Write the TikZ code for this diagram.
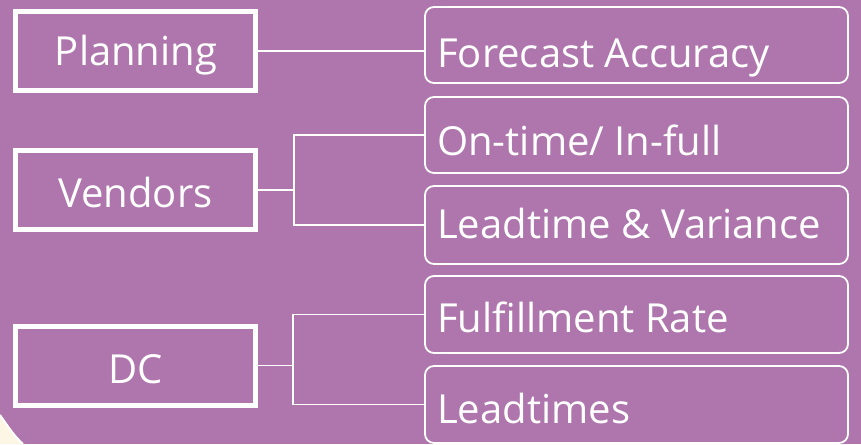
\documentclass[tikz,border=0pt]{standalone}
\usepackage{fontspec}
\setmainfont{Open Sans}
\definecolor{bgpurple}{HTML}{AE76AC}
\definecolor{cream}{HTML}{FDF6E4}
\begin{document}
\begin{tikzpicture}[x=1pt,y=-1pt,
  catbox/.style={draw=white, line width=5pt, minimum width=240pt, minimum height=79pt, inner sep=0pt},
  metbox/.style={draw=white, line width=1.8pt, rounded corners=9pt, minimum width=423pt, inner sep=0pt},
  cattext/.style={text=white, anchor=base, inner sep=0pt, font=\fontsize{40}{48}\selectfont},
  mettext/.style={text=white, anchor=base west, inner sep=0pt, font=\fontsize{40}{48}\selectfont},
  link/.style={draw=white, line width=1.8pt}]
\useasboundingbox (0,0) rectangle (861,444);
\fill[bgpurple] (0,0) rectangle (861,444);
\fill[cream] (0,415) .. controls (9,428) and (15,437) .. (23,444) -- (0,444) -- cycle;
\draw[white, line width=2pt] (0,415) .. controls (9,428) and (15,437) .. (23,444);

% category boxes
\node[catbox] (plan) at (135.5,51) {};
\node[catbox] (ven) at (135.5,190) {};
\node[catbox] (dc) at (135.5,365.5) {};
\node[cattext] (plant) at (136,65) {Planning};
\node[cattext] (vent) at (135.5,207) {Vendors};
\node[cattext] (dct) at (136,383) {DC};

% metric boxes
\node[metbox, minimum height=76pt] (fc) at (636.5,45) {};
\node[metbox, minimum height=76pt] (ot) at (636.5,135) {};
\node[metbox, minimum height=78pt] (lv) at (636.5,225) {};
\node[metbox, minimum height=77pt] (fl) at (636.5,314.5) {};
\node[metbox, minimum height=77pt] (lt) at (636.5,404.5) {};
\node[mettext] (fct) at (437,67) {Forecast Accuracy};
\node[mettext] (ott) at (437,155) {On-time/ In-full};
\node[mettext] (lvt) at (437,238) {Leadtime \& Variance};
\node[mettext] (flt) at (437,332) {Fulfillment Rate};
\node[mettext] (ltt) at (437,423) {Leadtimes};

% connectors
\coordinate (vj) at (294,190);
\coordinate (dj) at (293,365.5);
\draw[link] (plan.east) -- (plan.east -| fc.west);
\draw[link] (ven.east) -- (vj);
\draw[link] (ot.west) -| (vj) |- (lv.west);
\draw[link] (dc.east) -- (dj);
\draw[link] (fl.west) -| (dj) |- (lt.west);
\end{tikzpicture}
\end{document}
